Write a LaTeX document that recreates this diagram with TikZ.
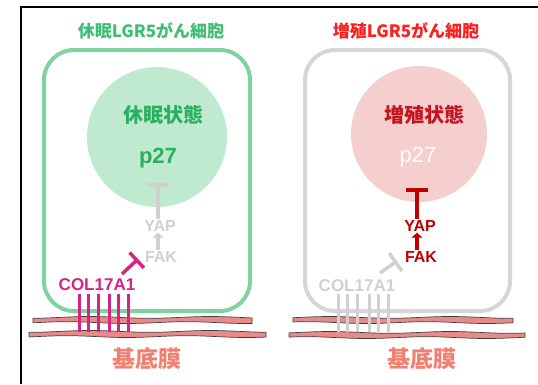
\documentclass[tikz,border=0pt]{standalone}
\usepackage{fontspec}
\setmainfont{Liberation Sans}
\newfontfamily\jpfont{Noto Sans CJK JP}
\usetikzlibrary{arrows.meta}

\definecolor{cellgreen}{RGB}{126,211,160}
\definecolor{fillgreen}{RGB}{192,234,208}
\definecolor{textgreen}{RGB}{40,176,96}
\definecolor{titlegreen}{RGB}{64,190,116}
\definecolor{cellgray}{RGB}{214,214,214}
\definecolor{fillpink}{RGB}{245,206,206}
\definecolor{textred}{RGB}{196,20,32}
\definecolor{darkred}{RGB}{192,0,0}
\definecolor{titlered}{RGB}{255,30,30}
\definecolor{magenta1}{RGB}{214,36,128}
\definecolor{lightgray1}{RGB}{208,208,208}
\definecolor{membranefill}{RGB}{232,138,138}
\definecolor{salmon1}{RGB}{242,128,112}

\tikzset{
  title/.style={font=\jpfont\bfseries\fontsize{17}{17}\selectfont},
  state/.style={font=\jpfont\bfseries\fontsize{20}{20}\selectfont},
  prot/.style={font=\bfseries\fontsize{22}{22}\selectfont},
  small/.style={font=\bfseries\fontsize{16}{16}\selectfont, inner sep=1pt},
  col/.style={font=\bfseries\fontsize{17}{17}\selectfont, inner sep=1pt},
  inhib/.style={line width=3.5pt, -{Bar[width=22pt,line width=3.5pt]}},
  act/.style={line width=4pt, -{Triangle[width=11pt,length=5pt]}},
  fibre/.style={line width=3pt},
  membrane/.style={fill=membranefill, draw=black!75, line width=0.7pt},
  basal/.style={font=\jpfont\bfseries\fontsize{23}{23}\selectfont, text=salmon1},
}

% wavy strip of the basement membrane: #1 left, #2 right, #3 mid height
\newcommand{\strip}[3]{%
  \draw[membrane] plot[domain=#1:#2, samples=40, smooth] (\x, {#3-2.6+0.9*sin(3*\x)})
    -- plot[domain=#2:#1, samples=40, smooth] (\x, {#3+2.6+0.9*sin(3*\x+70)}) -- cycle;}

\begin{document}
\begin{tikzpicture}[x=1pt, y=-1pt]
  \useasboundingbox (0,0) rectangle (538,384);

  % frame
  \draw[line width=2.5pt] (21,384) -- (21,7) -- (538,7);

  %% dormant cell
  \node[title, text=titlegreen] (titleL) at (151,31) {休眠LGR5がん細胞};
  \draw[cellgreen, line width=4pt, rounded corners=30pt] (44,50) rectangle (250,311);
  \fill[fillgreen] (157,137) circle (70);
  \node[state, text=textgreen] (stateL) at (163,115) {休眠状態};
  \node[prot, text=textgreen] (p27L) at (158,158) {p27};
  \coordinate (barL) at (158,183);
  \node[small, text=lightgray1] (yapL) at (160,226) {YAP};
  \node[small, text=lightgray1] (fakL) at (161,257) {FAK};
  \node[col, text=magenta1] (colL) at (97,285) {COL17A1};
  \coordinate (hitL) at (138,259);

  \draw[inhib, lightgray1] (yapL.north -| barL) -- (barL);
  \draw[act, lightgray1] (fakL.north -| barL) -- (yapL.south -| barL);
  \draw[inhib, magenta1, -{Bar[width=21pt,line width=3.5pt]}] (122,274) -- (hitL);

  %% proliferating cell
  \node[title, text=titlered] (titleR) at (406,31) {増殖LGR5がん細胞};
  \draw[cellgray, line width=4pt, rounded corners=30pt] (305,50) rectangle (510,311);
  \fill[fillpink] (419,134) circle (68);
  \node[state, text=textred] (stateR) at (424,115) {増殖状態};
  \node[prot, text=white, font=\fontsize{22}{22}\selectfont] (p27R) at (418,157) {p27};
  \coordinate (barR) at (417,188);
  \node[small, text=darkred] (yapR) at (420,226) {YAP};
  \node[small, text=darkred] (fakR) at (421,257) {FAK};
  \node[col, text=lightgray1] (colR) at (357,286) {COL17A1};
  \coordinate (hitR) at (397,261);

  \draw[inhib, darkred, line width=4pt] (yapR.north -| barR) -- (barR);
  \draw[act, darkred] (fakR.north -| barR) -- (yapR.south -| barR);
  \draw[inhib, lightgray1] (380,273) -- (hitR);

  %% basement membrane
  \strip{33}{252}{320}
  \strip{29}{266}{334}
  \strip{293}{513}{320}
  \strip{289}{525}{335}

  % anchoring fibres
  \foreach \x in {79,88,98,109,118,128}
    \draw[fibre, magenta1] (\x,294) -- (\x,332);
  \foreach \x in {338,347,357,369,378,388}
    \draw[fibre, lightgray1] (\x,294) -- (\x,332);

  \node[basal] (bmL) at (147,359) {基底膜};
  \node[basal] (bmR) at (422,359) {基底膜};
\end{tikzpicture}
\end{document}
